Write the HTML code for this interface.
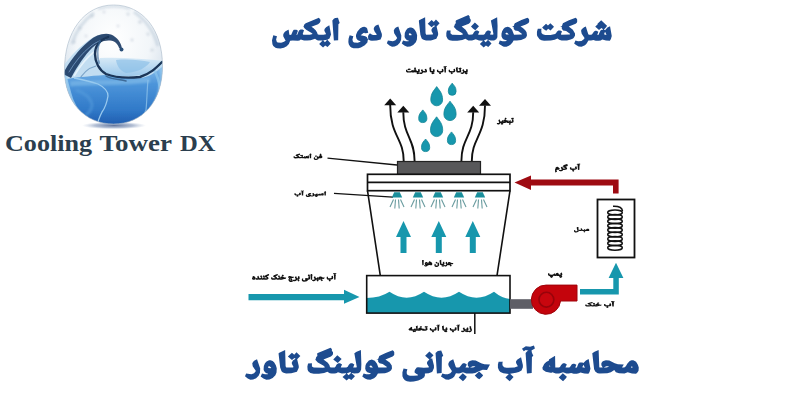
<!DOCTYPE html>
<html><head><meta charset="utf-8"><style>
html,body{margin:0;padding:0;background:#fff;width:800px;height:400px;overflow:hidden}
svg{display:block}
</style></head><body>
<svg width="800" height="400" viewBox="0 0 800 400">
<rect width="800" height="400" fill="#fff"/>
<defs>
<linearGradient id="gLow" x1="0" y1="0" x2="0" y2="1">
<stop offset="0" stop-color="#8fc2ec"/>
<stop offset="0.3" stop-color="#4d95da"/>
<stop offset="0.7" stop-color="#3079c8"/>
<stop offset="1" stop-color="#1b52a6"/>
</linearGradient>
<linearGradient id="gSurf" x1="0" y1="0" x2="0" y2="1">
<stop offset="0" stop-color="#d6e9f6"/>
<stop offset="1" stop-color="#9dc9ec"/>
</linearGradient>
<radialGradient id="gShadow" cx="0.5" cy="0.5" r="0.5">
<stop offset="0" stop-color="#5a6e98" stop-opacity="0.95"/>
<stop offset="0.6" stop-color="#8094b8" stop-opacity="0.6"/>
<stop offset="1" stop-color="#b0c0d8" stop-opacity="0"/>
</radialGradient>
<radialGradient id="gGlass" cx="0.48" cy="0.3" r="0.62">
<stop offset="0" stop-color="#ffffff"/>
<stop offset="0.55" stop-color="#f2f6f9"/>
<stop offset="0.8" stop-color="#dce5ee"/>
<stop offset="1" stop-color="#b8c8d8"/>
</radialGradient>
<clipPath id="cEgg"><path d="M113.5 5 C143 5 162.5 30 162.5 66 C162.5 102 142 124 113.5 124 C85 124 64.5 102 64.5 70 C64.5 32 84 5 113.5 5Z"/></clipPath>
<filter id="fB1" x="-20%" y="-20%" width="140%" height="140%"><feGaussianBlur stdDeviation="0.6"/></filter>
<filter id="fB2" x="-20%" y="-20%" width="140%" height="140%"><feGaussianBlur stdDeviation="1.2"/></filter>
</defs>
<ellipse cx="114" cy="125.5" rx="32" ry="3.8" fill="url(#gShadow)"/>
<g clip-path="url(#cEgg)">
<rect x="60" y="0" width="110" height="130" fill="url(#gGlass)"/>
<g filter="url(#fB2)" opacity="0.5" fill="none" stroke="#b4c4d4">
<path d="M72 44 C76 30 84 20 94 13" stroke-width="3"/>
<path d="M134 12 C146 20 154 32 158 46" stroke-width="3"/>
<path d="M98 9 C108 6 120 6 130 9" stroke-width="2"/>
</g>
<g filter="url(#fB2)" opacity="0.6" fill="#bcc8d4">
<circle cx="92" cy="16" r="1.6"/><circle cx="104" cy="12" r="1.3"/><circle cx="128" cy="14" r="1.5"/>
<circle cx="140" cy="22" r="1.8"/><circle cx="148" cy="34" r="1.5"/><circle cx="80" cy="28" r="1.6"/>
<circle cx="74" cy="42" r="1.4"/><circle cx="118" cy="26" r="1.2"/><circle cx="132" cy="40" r="1.4"/>
<circle cx="152" cy="50" r="1.6"/><circle cx="86" cy="36" r="1.2"/>
</g>
<g filter="url(#fB1)">
<path d="M62 68 C70 56 80 46 92 38 C98 34 106 33 112 36 C104 38 97 44 96 52 C95 58 97 62 102 60 C120 58 145 60 166 62 V130 H60Z" fill="#c2ddf1"/>
<path d="M70 66 C76 56 84 48 92 43" fill="none" stroke="#ffffff" stroke-width="2" opacity="0.7"/>
<path d="M74 76 C80 66 86 58 94 52" fill="none" stroke="#eef6fc" stroke-width="1.6" opacity="0.8"/>
<path d="M78 82 C82 74 88 68 96 66" fill="none" stroke="#4c7fae" stroke-width="1.2" opacity="0.6"/>
<path d="M100 58 C120 57 145 59 166 61 L164 68 C150 74 140 76 126 76 C115 76 106 74 100 70Z" fill="url(#gSurf)"/>
<path d="M116 60 C128 59 140 60 150 62 C146 68 138 72 126 73 C120 71 117 66 116 60Z" fill="#86bce6" opacity="0.6"/>
<path d="M60 80 C70 78 90 76 104 75 C118 76 132 79 142 78 C152 76 158 70 166 64 V130 H60Z" fill="url(#gLow)"/>
<path d="M60 70 C66 72 68 90 72 100 C76 110 82 118 90 126" fill="none" stroke="#9bcaee" stroke-width="3" opacity="0.8"/>
<path d="M74 78 C84 80 92 82 98 84 C104 87 108 90 108 96 C107 102 105 108 102 112 C100 116 98 120 97 126" fill="none" stroke="#a4d2f2" stroke-width="1.3" opacity="0.9"/>
<path d="M148 80 C147 90 147 100 146 110 C144 116 140 120 136 124" fill="none" stroke="#8cc2ea" stroke-width="1.2" opacity="0.8"/>
<path d="M154 70 C160 80 162 95 158 108" fill="none" stroke="#8cc4ec" stroke-width="2.5" opacity="0.7"/>
</g>
<g filter="url(#fB2)">
<path d="M65 76 C65 92 70 106 80 116" fill="none" stroke="#a6d6f4" stroke-width="4" opacity="0.75"/>
<path d="M162 68 C162 88 158 104 150 114" fill="none" stroke="#9fd0f2" stroke-width="4" opacity="0.6"/>
<path d="M70 84 C90 82 120 84 150 80" fill="none" stroke="#8fc6ee" stroke-width="5" opacity="0.5"/>
<path d="M76 90 C82 92 90 96 92 104 C92 110 88 114 84 116" fill="none" stroke="#5aa0de" stroke-width="3" opacity="0.5"/>
</g>
<g filter="url(#fB1)" fill="none" stroke-linecap="round">
<path d="M63 74 C69 62 78 50 89 41 C96 35 104 32.5 111 34.5 C117 37 121.5 43 121.8 48 L119.3 48.6 C118 44 115 41 110 40.5 C103 40 97 43 92 48 C85 55 78 65 71 78 Z" fill="#1f3d66" stroke="none" opacity="0.92"/>
<path d="M69 72 C75 62 82 53 91 46 C96 42 101 40 106 39" stroke="#7fa8d0" stroke-width="1" opacity="0.7"/>
<path d="M108 37 C100 40 95 46 95 54 C95 62 99 70 106 74 C116 78 130 78 140 77 C150 74 156 68 162 62" stroke="#1a3658" stroke-width="2.4"/>
<path d="M100 41 C97 48 97 56 99 63" stroke="#3a6a9c" stroke-width="2" opacity="0.6"/>
<path d="M106 76 C112 80 120 79 126 81" stroke="#2a4f78" stroke-width="1.5" opacity="0.7"/>
<circle cx="121.5" cy="49.5" r="2" fill="#2a4f78"/>
</g>
</g>
<path d="M113.5 5 C143 5 162.5 30 162.5 66 C162.5 102 142 124 113.5 124 C85 124 64.5 102 64.5 70 C64.5 32 84 5 113.5 5Z" fill="none" stroke="#a8b8c8" stroke-width="1" opacity="0.6" filter="url(#fB1)"/>

<g font-family="Liberation Serif" font-weight="bold" font-size="22.5" fill="#2b3e4e" lengthAdjust="spacingAndGlyphs">
<text x="5" y="151" textLength="87" lengthAdjust="spacingAndGlyphs">Cooling</text>
<text x="99.5" y="151" textLength="72.5" lengthAdjust="spacingAndGlyphs">Tower</text>
<text x="180" y="151" textLength="35.5" lengthAdjust="spacingAndGlyphs">DX</text>
</g>
<path transform="translate(272.00 15.00) scale(0.21628 0.20331)" fill="#1d4b8f" d="M255 122L245 134L237 126L240 124ZM996 119L998 123L988 134L980 126L993 119ZM632 94L636 90L639 90L647 98L643 100L635 99ZM1080 90L1083 87L1087 87L1095 96L1084 96L1080 93ZM1540 83L1546 96L1545 98L1535 95ZM644 61L637 61L626 67L619 76L614 89L613 106L615 113L623 123L633 127L631 129L619 129L606 126L600 140L612 150L625 156L639 155L653 148L665 134L670 121L671 100L667 85L660 72L653 65ZM584 56L573 62L567 68L563 76L565 90L579 113L571 124L559 129L536 126L531 139L543 150L555 156L567 155L580 149L591 137L597 122L598 101ZM492 47L480 52L473 59L470 69L475 82L485 96L480 98L467 98L459 95L453 90L447 97L444 104L445 120L443 119L439 110L434 106L427 103L410 100L423 88L427 87L429 90L434 90L445 87L440 67L436 62L427 58L419 59L408 65L395 81L389 96L388 104L391 117L397 124L409 129L409 132L396 136L379 135L374 130L372 121L376 105L359 100L354 117L353 133L355 144L361 155L367 160L377 164L399 164L411 160L429 149L441 135L443 123L446 120L454 125L462 127L484 126L502 120L508 104L508 93ZM1303 57L1287 40L1276 52L1267 43L1249 61L1257 70L1268 78L1277 68L1288 76L1303 59ZM938 37L920 57L929 67L940 75L957 55ZM1563 55L1551 62L1540 75L1536 73L1535 71L1546 59L1549 53L1522 26L1505 43L1506 45L1495 56L1495 58L1512 74L1523 64L1531 70L1530 72L1525 72L1519 76L1509 98L1504 97L1509 83L1500 78L1495 78L1489 81L1480 95L1476 97L1465 97L1462 94L1451 57L1443 60L1432 70L1429 78L1432 92L1445 113L1443 118L1431 128L1415 129L1403 126L1397 140L1406 148L1418 155L1431 156L1447 149L1454 142L1463 125L1475 126L1486 123L1497 127L1511 127L1520 125L1527 121L1544 126L1562 127L1567 118L1571 103ZM305 14L292 15L286 18L279 27L286 126L306 124L307 45L313 39ZM1409 18L1404 13L1373 26L1345 40L1341 53L1339 55L1332 56L1340 59L1340 68L1346 76L1360 79L1379 94L1376 96L1338 97L1336 94L1341 81L1333 76L1324 76L1317 82L1314 89L1309 94L1288 98L1263 98L1252 95L1246 89L1245 73L1247 68L1229 68L1225 82L1225 98L1227 105L1237 119L1246 124L1258 127L1289 126L1307 122L1320 116L1328 122L1339 126L1364 125L1381 121L1392 115L1397 110L1401 101L1401 91L1391 72L1372 57L1404 43L1409 38L1411 34L1411 22ZM1187 18L1181 13L1153 25L1123 40L1120 45L1119 53L1110 56L1117 59L1118 69L1124 76L1138 79L1156 94L1154 96L1119 97L1110 73L1100 62L1090 58L1077 62L1070 69L1064 80L1061 92L1061 104L1065 114L1071 120L1087 126L1079 129L1066 129L1053 126L1048 141L1067 154L1072 156L1084 156L1101 148L1111 137L1117 126L1132 126L1152 123L1171 114L1176 108L1179 100L1177 85L1171 75L1160 64L1149 57L1174 47L1186 39L1189 33L1189 23ZM265 51L250 60L243 69L242 78L250 93L249 95L238 97L217 97L211 95L209 87L203 76L191 64L182 58L213 45L221 38L224 31L224 23L217 13L156 40L150 46L145 59L148 60L149 64L158 73L183 89L188 94L175 97L145 97L142 93L148 75L141 71L132 71L125 76L116 98L113 97L120 77L113 72L101 73L97 77L89 97L82 98L80 95L77 73L75 73L61 81L55 88L52 96L52 104L63 127L53 133L42 136L26 135L22 132L19 121L23 105L6 100L0 124L2 144L6 152L16 161L24 164L39 165L55 161L68 154L78 143L84 127L96 125L119 127L127 125L133 120L148 126L163 126L179 124L199 117L207 123L213 125L234 126L218 143L236 160L246 150L257 157L272 140L256 122L257 120L266 116L273 96ZM680 26L679 30L686 97L692 115L698 121L712 126L735 125L760 117L768 98L768 89L761 56L775 40L758 22L748 34L738 25L720 43L738 60L749 50L754 54L742 63L737 73L738 80L745 94L742 96L713 97L710 90L708 11ZM809 76L806 89L806 105L813 119L821 124L834 127L857 127L880 123L894 117L908 125L925 126L942 119L957 126L976 127L961 143L979 160L989 150L1000 157L1015 140L1000 123L1001 122L1011 126L1027 125L1037 119L1042 109L1043 53L1041 11L1012 27L1024 95L1020 97L1008 96L1013 82L1004 76L997 76L989 82L984 93L978 97L955 97L953 95L959 82L950 76L943 76L935 82L929 94L926 96L912 97L906 95L904 87L895 72L877 57L910 43L916 37L919 30L919 23L914 15L914 7L908 0L852 26L849 29L850 40L846 44L842 57L840 58L853 73L878 89L883 94L882 96L873 98L833 97L825 90L826 76Z"/>
<path transform="translate(245.00 345.60) scale(0.22683 0.20565)" fill="#1d4b8f" d="M1401 134L1383 155L1402 173L1415 159L1419 152ZM960 134L942 155L961 173L971 163L978 152ZM464 128L468 132L457 144L449 136ZM1705 100L1708 103L1708 108L1701 106ZM1581 106L1593 100L1600 100L1605 103L1593 107ZM992 106L1004 100L1011 100L1016 103L1005 107ZM101 104L105 100L108 100L116 108L112 110L104 109ZM1339 100L1343 97L1346 99L1345 102ZM549 101L551 98L556 97L564 106L556 107L551 105ZM1492 93L1498 106L1497 108L1487 105ZM113 71L106 71L95 77L88 86L83 99L82 116L84 123L92 133L102 137L100 139L88 139L75 136L69 150L81 160L94 166L108 165L122 158L134 144L139 131L140 110L136 95L129 82L122 75ZM864 150L885 165L898 166L914 159L922 151L930 135L944 136L961 129L976 136L1002 136L1015 133L1031 125L1032 126L1013 146L1025 159L1033 164L1045 152L1050 144L1031 125L1048 118L1067 119L1080 92L1055 91L1041 86L1017 72L1002 71L991 75L986 79L982 86L982 96L988 106L987 107L972 106L978 92L969 86L962 86L958 88L946 105L941 107L932 107L929 103L918 66L907 72L900 79L896 90L898 99L912 123L911 127L905 134L894 139L882 139L870 136ZM53 66L42 72L36 78L32 86L34 100L48 123L40 134L28 139L5 136L0 149L12 160L24 166L36 165L49 159L60 147L66 132L67 111ZM1217 57L1201 67L1195 76L1195 85L1203 101L1188 106L1153 108L1142 105L1135 96L1135 83L1137 78L1118 79L1115 92L1115 108L1120 121L1126 128L1139 135L1163 138L1148 155L1167 173L1184 153L1169 137L1195 132L1207 128L1219 121L1225 105L1225 94ZM1311 108L1313 117L1326 127L1347 132L1352 132L1355 129L1370 136L1385 136L1402 129L1417 136L1427 136L1438 133L1449 137L1463 137L1472 135L1479 131L1496 136L1514 137L1519 128L1523 113L1515 65L1503 72L1492 85L1487 82L1477 82L1473 84L1469 89L1464 104L1461 108L1456 107L1461 93L1452 88L1447 88L1441 91L1432 105L1428 107L1414 107L1413 105L1419 92L1410 86L1403 86L1399 88L1393 95L1390 102L1385 106L1368 106L1367 49L1340 67L1340 72L1328 80L1319 89ZM407 47L389 67L409 85L426 65ZM813 29L794 49L813 67L805 76L802 84L803 90L811 104L809 106L788 108L763 105L757 106L749 119L747 129L753 136L764 143L760 145L743 147L727 147L717 143L713 136L713 126L716 115L699 111L694 129L694 149L699 161L705 168L714 173L728 176L744 175L764 170L779 163L790 154L793 146L795 145L793 144L793 136L810 134L824 128L827 125L833 109L833 97L825 61L820 64L818 63L831 47ZM865 24L850 26L840 36L846 136L867 133L868 55L874 49ZM656 28L651 23L620 36L592 50L588 63L586 65L579 66L587 69L587 78L593 86L607 89L626 104L623 106L588 107L582 88L572 74L559 68L546 72L534 88L531 98L530 113L533 122L539 129L556 136L548 139L535 139L523 136L517 150L529 160L539 165L553 166L569 159L578 150L586 136L617 134L628 131L639 125L644 120L648 111L647 97L638 82L619 67L651 53L656 48L658 44L658 32ZM1531 37L1539 115L1545 127L1555 134L1564 136L1597 135L1613 129L1628 119L1635 130L1649 135L1673 136L1687 130L1706 136L1724 137L1730 131L1735 122L1736 107L1732 93L1724 79L1712 71L1704 71L1696 75L1686 87L1679 101L1672 107L1662 106L1670 92L1644 91L1630 86L1606 72L1591 71L1580 75L1575 79L1571 86L1571 96L1577 106L1564 107L1562 105L1559 22L1541 30ZM149 36L148 40L155 107L161 125L167 131L181 136L204 135L229 127L237 108L237 99L230 66L244 50L227 32L217 44L207 35L189 53L207 70L218 60L223 64L211 73L206 83L207 90L214 104L211 106L182 107L179 100L177 21ZM278 87L275 102L276 118L279 125L288 133L303 137L326 137L349 133L363 127L374 134L382 136L394 136L402 134L410 129L427 136L445 135L446 137L430 153L448 170L458 160L469 167L484 150L483 147L470 134L472 133L481 136L499 134L507 128L512 116L513 91L511 21L492 30L482 37L493 105L489 107L477 106L482 92L473 86L466 86L462 88L457 94L453 103L447 107L424 107L422 105L428 92L419 86L412 86L404 92L398 104L395 106L381 107L375 105L372 94L365 83L346 67L379 53L386 46L388 41L388 32L383 25L383 17L377 10L321 36L318 39L319 50L314 56L311 67L309 68L321 82L345 97L352 104L351 106L343 108L303 107L295 102L295 86ZM1274 0L1257 6L1238 3L1221 15L1229 27L1238 22L1250 25L1244 28L1237 36L1243 136L1264 133L1265 55L1271 49L1265 35L1263 24L1278 14Z"/>
<path transform="translate(406.00 66.00) scale(0.05962 0.04749)" fill="#111" d="M1017 135L1011 141L1006 137L1014 134ZM461 135L454 143L452 143L448 138L449 136L458 134ZM211 135L204 143L198 138L199 136L208 134ZM152 99L155 104L147 107L144 104L148 100ZM1030 61L1016 68L1008 76L1005 82L1005 89L1012 103L1011 106L983 107L980 103L969 66L956 73L947 84L946 96L950 106L961 123L960 128L955 134L944 139L933 139L919 136L914 152L937 168L949 168L966 160L976 148L981 137L995 139L982 152L1011 178L1016 176L1035 155L1039 148L1023 132L1031 127L1038 107ZM819 56L805 64L796 74L794 80L795 86L803 101L797 104L775 108L749 107L742 104L738 100L737 84L739 78L719 78L715 93L715 109L720 122L728 131L735 135L749 139L762 140L747 155L768 175L780 163L786 154L772 139L793 135L808 130L818 125L823 118L827 106L827 95ZM622 56L607 65L598 77L598 85L606 101L592 106L578 108L557 108L549 106L542 101L540 96L542 78L522 78L518 95L518 106L522 120L527 127L536 134L547 138L565 140L550 155L571 175L584 162L590 153L575 139L596 135L614 129L623 124L630 107L630 93ZM80 67L62 50L52 62L44 53L42 53L24 73L43 90L53 81L64 88L77 74ZM0 91L0 110L2 117L7 126L19 135L34 139L55 139L76 136L97 129L105 135L115 138L130 138L146 134L172 138L189 138L190 139L175 154L194 172L205 162L215 170L227 158L233 163L244 168L260 166L268 162L278 152L285 139L288 129L294 135L301 138L328 138L346 132L353 113L351 97L337 57L323 62L317 68L313 77L314 86L327 106L324 108L307 107L297 100L288 111L274 66L261 72L255 78L251 86L252 99L266 123L264 129L252 138L241 139L225 135L222 140L215 133L226 126L232 109L232 100L224 60L209 69L200 80L200 91L207 104L205 106L179 107L177 92L172 79L163 69L156 66L171 47L152 27L132 48L136 54L149 66L136 73L127 82L121 94L119 107L113 106L118 92L109 86L100 86L96 88L88 101L84 104L64 108L39 108L28 105L22 98L22 83L24 78L4 78ZM836 37L843 108L845 118L851 129L859 135L869 138L893 137L918 129L923 122L927 109L927 100L921 66L934 50L916 32L905 44L896 35L877 54L896 72L906 63L910 65L898 75L894 83L896 94L902 104L900 106L871 107L869 101L867 21ZM421 21L391 37L399 115L405 128L412 134L424 138L439 139L425 153L436 166L445 172L455 162L465 170L482 150L465 133L475 127L482 107L474 61L460 68L452 76L449 82L449 89L456 103L455 106L426 107L424 105ZM679 0L661 6L642 3L625 15L632 29L643 24L650 26L642 34L640 39L647 138L669 136L670 56L677 51L668 26L684 15Z"/>
<path transform="translate(496.75 117.50) scale(0.05259 0.05208)" fill="#111" d="M107 99L109 101L100 111L93 105ZM142 74L151 70L157 70L159 72L150 75ZM126 61L132 73L131 75L120 74ZM327 18L309 0L299 11L289 3L270 22L289 40L291 40L300 31L303 33L292 42L288 49L288 59L295 73L285 75L264 75L263 72L268 60L257 54L251 54L245 57L235 73L231 75L223 75L222 73L229 60L201 59L184 52L169 42L182 30L189 20L170 1L150 21L151 24L169 41L168 42L159 39L148 39L141 41L131 48L126 61L118 55L108 54L100 60L94 72L89 75L69 75L67 73L55 34L42 41L36 47L32 56L34 69L47 91L45 98L38 104L30 107L19 107L6 104L0 120L21 135L35 136L51 129L59 121L67 105L85 105L86 107L71 122L90 140L101 130L111 138L128 119L115 105L116 104L123 106L148 106L159 104L169 100L185 89L191 99L207 105L233 106L247 101L248 103L229 123L250 143L262 131L268 121L250 102L247 101L249 99L265 106L278 106L296 103L313 96L320 78L320 66L314 35Z"/>
<path transform="translate(293.50 153.50) scale(0.05780 0.04167)" fill="#111" d="M237 76L240 79L242 84L241 86L234 83ZM388 41L368 63L383 78L390 82L408 61ZM303 2L293 2L287 4L279 10L276 16L283 116L305 114L306 34L312 29ZM1 74L0 92L4 104L8 109L16 114L31 117L67 115L81 111L87 107L95 112L108 116L132 115L147 109L153 113L163 116L184 113L195 117L209 117L218 115L225 111L236 115L261 117L268 100L270 89L261 43L247 51L237 63L233 60L220 61L215 66L206 86L203 84L208 72L198 66L188 68L176 84L161 85L161 81L166 71L155 63L168 46L151 28L140 39L130 31L111 50L130 68L132 68L141 59L148 64L140 70L134 82L129 85L107 85L102 83L99 73L93 63L82 52L74 47L104 34L112 27L115 21L115 11L108 1L48 26L40 33L37 39L37 44L31 47L36 48L44 60L68 75L76 83L69 86L37 86L25 84L22 81L21 76L23 64L4 64ZM468 0L448 22L462 37L456 40L445 53L442 62L442 77L445 84L432 84L429 61L410 71L403 81L402 94L412 114L410 118L394 124L377 123L373 119L371 111L375 93L356 88L351 106L350 122L354 138L363 149L380 155L392 155L407 151L417 146L426 138L433 127L436 116L451 116L478 112L488 109L495 104L499 95L499 77L497 67L487 46L475 36L488 20Z"/>
<path transform="translate(294.40 190.50) scale(0.05821 0.03631)" fill="#111" d="M382 131L384 133L376 141L371 136ZM472 98L475 101L477 106L476 108L469 105ZM496 65L482 73L472 85L468 82L455 83L450 88L441 108L438 106L443 94L433 88L423 90L411 106L396 107L396 103L401 93L397 89L390 86L383 86L379 88L367 106L344 107L342 105L330 66L317 73L308 84L307 95L313 109L322 123L322 126L316 134L305 139L289 138L288 134L293 130L288 130L284 121L280 117L271 113L256 110L261 104L269 99L273 103L290 99L287 83L283 75L275 69L263 69L253 74L243 84L237 93L232 106L231 119L235 130L239 135L250 140L251 142L239 146L223 145L219 141L217 135L217 128L221 115L201 110L196 133L196 147L198 156L202 164L210 172L225 177L236 177L257 171L269 164L279 155L296 167L314 167L326 161L334 153L342 137L360 137L361 138L348 152L358 163L374 176L379 178L395 162L405 148L395 138L396 137L406 138L419 135L430 139L444 139L453 137L460 133L471 137L496 139L503 122L505 111ZM104 56L91 63L82 72L79 79L79 84L87 101L85 103L60 108L39 108L30 106L22 98L22 83L24 78L3 79L0 91L0 110L4 121L13 131L22 136L46 140L32 155L52 175L64 164L71 154L57 139L93 130L103 125L109 115L112 97ZM538 24L528 24L522 26L514 32L511 38L518 138L540 136L541 56L547 51ZM161 0L143 6L123 3L106 16L114 29L125 24L131 26L122 37L128 138L151 135L152 56L158 50L152 36L150 26L166 14Z"/>
<path transform="translate(422.00 259.75) scale(0.05536 0.04618)" fill="#111" d="M386 114L379 122L377 122L373 117L374 115L383 113ZM482 85L490 81L497 81L500 83L491 86ZM71 81L74 78L77 78L83 85L78 86L73 84ZM136 73L138 75L137 80L133 78ZM303 62L288 69L280 77L277 83L276 94L287 116L279 122L268 125L251 124L246 117L246 105L249 94L230 89L224 119L227 136L236 149L245 154L254 156L272 155L291 147L301 138L308 126L310 118L310 105ZM263 42L243 64L253 75L264 83L277 70L282 62ZM183 74L177 63L166 50L154 41L135 33L129 32L124 51L113 66L110 86L102 64L91 51L80 47L70 49L63 54L54 68L50 83L50 93L54 104L61 111L73 116L69 118L57 118L43 115L37 131L57 145L62 147L74 147L87 142L95 136L108 117L118 117L138 112L155 118L176 119L186 99L186 85ZM27 3L17 3L6 8L0 16L6 117L29 114L30 35L36 29ZM316 16L325 97L331 108L339 114L349 117L364 118L350 133L369 151L380 141L390 149L401 137L417 147L432 146L440 143L450 135L461 116L488 117L504 113L511 109L513 111L498 126L519 146L531 134L537 125L519 105L534 99L554 100L568 72L537 69L527 65L506 52L499 50L488 50L475 55L470 60L467 66L467 77L472 85L462 86L448 45L437 51L429 59L425 70L427 79L441 103L439 108L433 114L424 118L413 118L399 115L397 119L390 112L401 105L407 88L407 79L399 39L384 48L375 59L375 70L382 83L380 85L351 86L349 80L347 0Z"/>
<path transform="translate(252.00 272.90) scale(0.05893 0.04973)" fill="#111" d="M664 110L666 111L647 132L666 151L662 152L646 147L640 140L640 132L651 118ZM1149 106L1157 102L1167 104L1158 107ZM496 106L504 102L511 102L514 104L505 107ZM26 102L28 101L34 109L26 110L24 107ZM1132 94L1134 95L1135 101L1139 106L1138 107L1127 106ZM480 93L486 106L485 107L474 106ZM203 85L216 70L217 79L224 88L238 91L255 105L249 107L216 107L215 105L221 93L213 87ZM1016 152L1040 168L1051 168L1061 165L1071 158L1077 151L1084 137L1097 138L1111 133L1112 135L1093 155L1114 175L1126 163L1132 153L1114 134L1111 133L1113 131L1129 138L1155 138L1171 134L1180 129L1181 130L1165 146L1165 148L1186 167L1204 146L1186 126L1201 120L1220 121L1235 92L1213 92L1204 90L1192 85L1173 73L1166 71L1154 71L1142 76L1136 82L1132 92L1125 87L1115 86L1107 91L1099 105L1095 107L1085 107L1071 66L1060 72L1052 80L1048 91L1050 100L1064 124L1062 129L1056 135L1047 139L1036 139L1022 136ZM801 61L786 69L777 80L777 91L784 104L783 106L779 107L763 106L751 66L739 72L729 83L727 91L729 100L743 124L741 129L735 135L726 139L715 139L701 136L696 148L673 152L669 151L679 141L686 129L667 110L671 107L679 105L702 104L713 75L685 75L645 64L635 64L623 68L618 72L614 79L613 85L617 97L624 102L633 96L641 96L629 108L620 127L619 145L625 163L640 177L651 181L670 182L690 175L710 164L719 168L730 168L740 165L752 156L763 137L775 138L784 136L785 137L768 155L789 175L801 163L807 154L789 135L802 128L809 111L809 98ZM20 61L16 63L11 70L11 87L7 91L2 101L0 115L2 123L9 133L18 138L32 139L40 137L49 131L54 123L59 109L59 100L55 88L49 79L35 67ZM1371 56L1358 63L1349 72L1346 79L1346 84L1354 101L1352 103L1327 108L1306 108L1297 106L1289 98L1289 83L1291 78L1270 79L1267 91L1267 110L1271 121L1280 131L1289 136L1313 140L1299 155L1319 175L1331 164L1338 154L1324 139L1360 130L1370 125L1376 115L1379 97ZM966 28L946 49L950 55L964 68L957 76L954 83L956 94L962 105L957 107L941 108L911 105L907 108L901 119L899 130L904 137L914 144L896 147L880 147L873 145L868 140L866 133L870 115L851 111L846 129L845 143L848 157L856 169L866 175L881 178L911 174L929 167L938 161L944 155L946 149L950 146L947 144L947 138L962 136L980 128L987 110L987 100L979 61L975 61L985 48ZM1019 24L1009 24L999 28L994 33L991 40L996 91L998 138L1020 136L1022 79L1021 57L1028 51ZM324 101L324 116L327 125L333 132L343 137L355 139L385 138L399 135L412 129L421 135L432 138L449 137L460 131L476 138L502 138L518 134L543 121L568 121L582 92L560 92L541 86L524 75L538 59L542 51L523 32L503 54L523 73L522 74L513 71L497 72L489 76L484 81L480 93L472 87L461 85L477 66L457 47L438 68L458 88L445 106L428 106L425 104L422 93L416 84L398 69L431 54L437 47L439 42L439 34L435 26L429 23L372 48L363 56L360 67L355 69L360 70L364 78L369 83L393 98L400 105L392 108L361 108L349 106L345 101L346 86L328 86ZM290 32L283 23L267 29L223 50L217 64L199 46L179 68L199 87L190 102L183 107L172 107L172 103L177 93L169 87L159 85L170 73L174 65L155 46L135 68L155 87L145 104L140 107L130 107L125 102L115 76L111 58L101 60L94 65L89 75L90 89L98 107L84 108L68 101L60 113L59 126L63 133L78 139L93 139L115 132L129 138L142 138L152 135L158 131L164 135L174 138L190 137L201 131L217 138L242 137L262 132L273 125L277 120L280 113L280 101L272 85L252 68L275 59L285 53L290 46ZM1428 0L1410 6L1390 3L1373 16L1381 29L1392 24L1398 26L1389 37L1395 138L1418 135L1419 56L1425 50L1419 36L1417 26L1433 14Z"/>
<path transform="translate(408.50 324.50) scale(0.06165 0.04545)" fill="#111" d="M952 135L945 143L943 143L939 138L940 136L949 134ZM611 135L604 143L598 138L599 136ZM102 131L103 134L95 143L93 143L88 137ZM174 106L182 102L189 102L191 104L182 107ZM32 101L34 99L35 100L34 102ZM773 56L759 64L750 74L748 80L749 86L757 101L751 104L729 108L703 107L696 104L692 100L691 84L693 78L673 78L669 93L669 109L674 122L682 131L689 135L703 139L716 140L701 155L722 175L734 163L740 154L726 139L747 135L762 130L772 125L777 118L781 106L781 95ZM449 56L436 63L426 73L424 85L432 101L418 106L405 108L384 108L375 106L367 99L366 89L368 78L348 79L344 103L345 111L350 123L359 132L369 137L391 140L377 154L377 156L397 175L407 166L416 154L402 139L438 130L449 124L453 117L457 98ZM1021 53L1002 33L982 54L986 60L1000 73L995 79L991 90L994 102L1007 123L1006 127L999 135L988 139L965 136L963 140L956 133L967 126L973 109L973 100L965 60L950 69L942 78L940 87L948 104L946 106L918 107L916 105L904 66L891 73L885 79L881 88L883 101L896 123L894 130L887 136L879 139L868 139L855 136L849 152L870 167L884 168L900 161L908 153L915 138L917 137L930 139L916 154L935 172L946 162L956 170L967 158L984 168L994 168L1007 163L1022 147L1028 131L1028 109L1015 66L1012 65ZM572 21L542 37L550 116L555 127L563 134L575 138L590 139L575 154L588 167L595 172L604 163L606 163L615 170L632 151L632 149L616 133L626 127L632 111L632 97L625 61L612 67L605 73L600 81L600 90L607 103L606 106L577 107L575 105ZM0 110L2 118L8 124L21 131L43 134L45 131L53 136L62 138L80 137L81 138L66 153L69 158L85 172L96 162L106 170L123 150L110 137L111 136L126 138L140 134L152 138L179 138L196 134L216 122L224 132L233 136L246 138L274 137L299 129L304 122L308 109L308 100L302 66L315 50L297 32L286 44L277 35L258 54L277 72L287 63L291 65L279 75L275 83L277 94L283 104L281 106L254 107L253 106L260 92L233 91L214 83L202 75L216 59L220 51L201 32L181 54L201 73L180 71L167 76L159 87L159 98L164 106L152 107L149 105L149 21L119 37L122 72L127 102L126 107L115 106L120 92L110 86L103 86L99 88L93 95L89 104L84 107L59 106L58 48L29 68L30 72L18 80L7 91ZM830 0L812 6L793 3L775 16L783 29L794 24L801 26L794 32L791 38L798 138L820 136L821 56L827 51L819 26L835 15ZM505 0L497 4L487 6L476 3L468 3L451 15L459 29L469 24L476 26L469 33L466 40L471 91L473 138L495 136L497 79L496 57L503 51L494 26L502 22L510 15Z"/>
<path transform="translate(555.00 163.50) scale(0.06287 0.04688)" fill="#111" d="M28 103L31 100L34 100L36 103ZM39 69L32 69L24 73L12 87L5 103L12 107L7 111L0 128L3 191L23 183L32 176L23 136L40 132L66 132L77 105L62 92L54 80L46 72ZM341 56L327 64L318 74L316 80L317 86L325 101L319 104L297 108L271 107L264 104L260 100L259 84L261 78L241 78L237 93L237 109L242 122L250 131L257 135L271 139L284 140L269 155L290 175L302 163L308 154L294 139L315 135L330 130L340 125L345 118L349 106L349 95ZM193 11L190 10L133 37L131 40L133 53L131 63L129 65L119 67L129 71L130 80L135 87L152 92L162 99L167 105L162 107L130 107L128 105L116 66L102 74L96 81L93 89L96 103L109 124L107 129L101 135L91 139L80 139L67 136L61 151L63 154L82 167L100 167L112 161L121 152L129 137L145 138L166 135L180 129L189 121L193 111L191 96L182 82L165 68L193 56L202 47L203 34L198 26L198 17ZM398 0L380 6L360 3L343 16L351 29L362 24L368 26L359 37L365 138L388 135L389 56L395 50L389 36L387 26L403 14Z"/>
<path transform="translate(574.00 227.00) scale(0.05580 0.03571)" fill="#111" d="M185 110L166 131L180 146L187 151L198 140L205 129ZM241 81L243 79L246 83L243 84ZM87 92L87 102L90 108L98 113L106 115L121 115L143 108L157 114L170 114L180 111L186 107L192 111L202 114L211 114L222 109L227 109L244 114L262 115L267 111L274 99L275 84L272 72L264 57L258 51L250 47L242 47L235 50L226 59L216 78L209 83L199 82L205 69L201 65L194 62L183 64L172 81L168 83L158 83L150 72L138 33L123 40L117 51L118 65L126 83L112 84L96 77L90 84ZM76 0L60 2L52 9L48 17L50 40L63 113L48 121L30 122L22 115L21 107L25 91L8 86L5 87L0 110L1 127L7 141L13 147L21 151L37 153L56 149L70 141L79 131L84 121L85 94L79 32L84 28Z"/>
<path transform="translate(548.00 272.40) scale(0.06170 0.04746)" fill="#111" d="M55 78L57 77L58 79L56 80ZM211 74L205 80L201 76L204 74ZM146 45L148 43L150 44L149 46ZM234 87L218 71L225 67L232 49L232 37L224 0L212 6L202 16L200 20L200 30L207 44L197 46L180 46L175 39L168 20L164 14L158 10L147 11L139 15L129 25L119 46L113 45L118 31L109 25L100 25L96 27L88 40L81 44L64 47L34 46L28 44L22 37L22 22L24 17L3 18L0 30L0 49L5 62L11 69L19 74L40 79L28 91L57 117L69 108L85 87L74 76L94 68L115 77L124 77L134 73L156 78L170 78L172 75L176 77L188 77L189 78L177 91L187 102L206 117L215 111Z"/>
<path transform="translate(585.20 301.00) scale(0.06477 0.03977)" fill="#111" d="M172 106L181 102L187 102L190 104L181 107ZM156 93L162 106L161 107L150 106ZM394 56L379 65L370 77L370 85L378 101L364 106L350 108L329 108L321 106L314 101L312 96L314 78L294 78L290 95L290 106L294 120L299 127L308 134L319 138L337 140L322 155L343 175L356 162L362 153L347 139L368 135L386 129L395 124L402 107L402 93ZM0 103L0 114L4 126L12 134L25 138L61 138L81 133L87 129L95 134L108 138L125 137L136 131L153 138L178 138L194 134L219 121L244 121L258 92L237 92L224 89L200 75L219 52L199 32L179 54L199 73L198 74L189 71L178 71L171 73L161 80L156 93L148 87L137 85L148 74L153 66L134 46L114 67L118 73L134 88L121 106L104 106L101 104L99 95L93 85L82 74L74 69L104 56L112 49L115 43L115 33L112 27L108 23L105 23L48 48L40 55L37 61L37 66L31 69L36 70L44 82L68 97L76 105L69 108L37 108L25 106L22 103L21 98L23 86L4 86ZM451 0L433 6L414 3L397 15L404 29L415 24L422 26L414 34L412 39L419 138L441 136L442 56L449 51L440 26L456 15Z"/>
<path fill="#1797ad" stroke="#138596" stroke-width="0.8" d="M436.7 86.6 C439.35499999999996 90.44 442.59999999999997 93.115 442.59999999999997 99.89999999999999 A5.9 5.9 0 0 1 430.8 99.89999999999999 C430.8 93.115 434.045 90.44 436.7 86.6Z"/>
<path fill="#1797ad" stroke="#138596" stroke-width="0.8" d="M452.2 83.2 C453.955 85.62 456.09999999999997 86.91499999999999 456.09999999999997 91.39999999999999 A3.9 3.9 0 0 1 448.3 91.39999999999999 C448.3 86.91499999999999 450.445 85.62 452.2 83.2Z"/>
<path fill="#1797ad" stroke="#138596" stroke-width="0.8" d="M450 101.2 C452.745 105.08 456.1 107.485 456.1 114.5 A6.1 6.1 0 0 1 443.9 114.5 C443.9 107.485 447.255 105.08 450 101.2Z"/>
<path fill="#1797ad" stroke="#138596" stroke-width="0.8" d="M422.8 109.9 C424.64500000000004 112.44 426.90000000000003 113.785 426.90000000000003 118.5 A4.1 4.1 0 0 1 418.7 118.5 C418.7 113.785 420.955 112.44 422.8 109.9Z"/>
<path fill="#1797ad" stroke="#138596" stroke-width="0.8" d="M436.6 116.8 C439.345 120.75999999999999 442.70000000000005 123.485 442.70000000000005 130.5 A6.1 6.1 0 0 1 430.5 130.5 C430.5 123.485 433.855 120.75999999999999 436.6 116.8Z"/>
<path fill="#1797ad" stroke="#138596" stroke-width="0.8" d="M451.5 131.9 C453.345 134.44 455.6 135.785 455.6 140.5 A4.1 4.1 0 0 1 447.4 140.5 C447.4 135.785 449.655 134.44 451.5 131.9Z"/>
<path fill="#1797ad" stroke="#138596" stroke-width="0.8" d="M425.6 139 C427.44500000000005 141.52 429.70000000000005 142.785 429.70000000000005 147.5 A4.1 4.1 0 0 1 421.5 147.5 C421.5 142.785 423.755 141.52 425.6 139Z"/>
<path d="M403.7 161 C403.7 138 390.2 136 390.2 104.9" fill="none" stroke="#111" stroke-width="1.9"/><path fill="#111" d="M390.2 98.4 L396.2 105.2 L384.2 105.2Z"/>
<path d="M414.6 161 C414.6 138 403.3 136 403.3 112.2" fill="none" stroke="#111" stroke-width="1.9"/><path fill="#111" d="M403.3 105.7 L409.3 112.5 L397.3 112.5Z"/>
<path d="M461.4 161 C461.4 138 473.2 136 473.2 112.2" fill="none" stroke="#111" stroke-width="1.9"/><path fill="#111" d="M473.2 105.7 L479.2 112.5 L467.2 112.5Z"/>
<path d="M471.8 161 C471.8 138 485 136 485 105.4" fill="none" stroke="#111" stroke-width="1.9"/><path fill="#111" d="M485 98.9 L491 105.7 L479 105.7Z"/>
<rect x="397.5" y="161.5" width="83" height="13" fill="#58585a" stroke="#222" stroke-width="1.2"/>
<path d="M327.5 158.2 L397 165" stroke="#111" stroke-width="1.3" fill="none"/>
<path d="M334 193.3 L393 197.2" stroke="#111" stroke-width="1.3" fill="none"/>
<rect x="367.5" y="174.3" width="142.5" height="16.4" fill="#fff" stroke="#111" stroke-width="1.7"/>
<path d="M367.5 182.4 H510" stroke="#111" stroke-width="1.8"/>
<path d="M367.5 190.7 L380.3 275.6 M510 190.7 L497 275.6" stroke="#111" stroke-width="1.6" fill="none"/>
<path fill="#1a8f9c" d="M394.2 192.2 L399.8 192.2 L402.2 197.6 L391.8 197.6Z"/>
<path d="M393.5 199.5 L390 207" stroke="#4f8a8e" stroke-width="1.1" opacity="0.85"/>
<path d="M395.5 199.5 L394.8 208.5" stroke="#4f8a8e" stroke-width="1.1" opacity="0.85"/>
<path d="M398.5 199.5 L399.2 208.5" stroke="#4f8a8e" stroke-width="1.1" opacity="0.85"/>
<path d="M400.5 199.5 L404 207" stroke="#4f8a8e" stroke-width="1.1" opacity="0.85"/>
<path fill="#1a8f9c" d="M415.2 192.2 L420.8 192.2 L423.2 197.6 L412.8 197.6Z"/>
<path d="M414.5 199.5 L411 207" stroke="#4f8a8e" stroke-width="1.1" opacity="0.85"/>
<path d="M416.5 199.5 L415.8 208.5" stroke="#4f8a8e" stroke-width="1.1" opacity="0.85"/>
<path d="M419.5 199.5 L420.2 208.5" stroke="#4f8a8e" stroke-width="1.1" opacity="0.85"/>
<path d="M421.5 199.5 L425 207" stroke="#4f8a8e" stroke-width="1.1" opacity="0.85"/>
<path fill="#1a8f9c" d="M435.2 192.2 L440.8 192.2 L443.2 197.6 L432.8 197.6Z"/>
<path d="M434.5 199.5 L431 207" stroke="#4f8a8e" stroke-width="1.1" opacity="0.85"/>
<path d="M436.5 199.5 L435.8 208.5" stroke="#4f8a8e" stroke-width="1.1" opacity="0.85"/>
<path d="M439.5 199.5 L440.2 208.5" stroke="#4f8a8e" stroke-width="1.1" opacity="0.85"/>
<path d="M441.5 199.5 L445 207" stroke="#4f8a8e" stroke-width="1.1" opacity="0.85"/>
<path fill="#1a8f9c" d="M456.2 192.2 L461.8 192.2 L464.2 197.6 L453.8 197.6Z"/>
<path d="M455.5 199.5 L452 207" stroke="#4f8a8e" stroke-width="1.1" opacity="0.85"/>
<path d="M457.5 199.5 L456.8 208.5" stroke="#4f8a8e" stroke-width="1.1" opacity="0.85"/>
<path d="M460.5 199.5 L461.2 208.5" stroke="#4f8a8e" stroke-width="1.1" opacity="0.85"/>
<path d="M462.5 199.5 L466 207" stroke="#4f8a8e" stroke-width="1.1" opacity="0.85"/>
<path fill="#1a8f9c" d="M477.2 192.2 L482.8 192.2 L485.2 197.6 L474.8 197.6Z"/>
<path d="M476.5 199.5 L473 207" stroke="#4f8a8e" stroke-width="1.1" opacity="0.85"/>
<path d="M478.5 199.5 L477.8 208.5" stroke="#4f8a8e" stroke-width="1.1" opacity="0.85"/>
<path d="M481.5 199.5 L482.2 208.5" stroke="#4f8a8e" stroke-width="1.1" opacity="0.85"/>
<path d="M483.5 199.5 L487 207" stroke="#4f8a8e" stroke-width="1.1" opacity="0.85"/>
<path fill="#1797ad" d="M403.5 221 L411.0 237 L406.5 237 L406.5 253 L400.5 253 L400.5 237 L396.0 237Z"/>
<path fill="#1797ad" d="M438.8 221 L446.3 237 L441.8 237 L441.8 253 L435.8 253 L435.8 237 L431.3 237Z"/>
<path fill="#1797ad" d="M472.8 221 L480.3 237 L475.8 237 L475.8 253 L469.8 253 L469.8 237 L465.3 237Z"/>
<path fill="#1797ad" d="M366.5 298 Q380 298 389.5 291.8 Q406.5 303.5 424 291.8 Q441.5 303.5 459 291.8 Q476.5 303.5 494 291.8 Q502 298.5 510 299 V313 H366.5Z"/>
<rect x="366.7" y="275.6" width="143.3" height="37.5" fill="none" stroke="#111" stroke-width="1.6"/>
<path d="M474.8 313 V334" stroke="#111" stroke-width="1.5"/>
<path fill="#1797ad" d="M248.5 294 H344 V289.8 L359.5 297 L344 303.8 V300.2 H248.5Z"/>
<rect x="510" y="299.2" width="23" height="9.6" fill="#5e5e66"/>
<path fill="#c4040c" stroke="#a0030a" stroke-width="1" d="M546 285.1 H577 V301 H560.5 A14.6 14.6 0 1 1 546 285.1Z"/>
<circle cx="546.4" cy="299.7" r="7.4" fill="#c8060e" stroke="#98030a" stroke-width="1.6"/>
<path fill="#1797ad" d="M580 289 H613.3 V278 H608.6 L616 262.7 L623.4 278 H618.8 V294.4 H580Z"/>
<rect x="597.5" y="199.5" width="37" height="58" fill="#fff" stroke="#111" stroke-width="1.8"/>
<path d="M613 206.3 Q622 206 622.5 211" fill="none" stroke="#111" stroke-width="1.5"/><ellipse cx="615" cy="212.50" rx="7.3" ry="2.5" fill="none" stroke="#111" stroke-width="1.5"/><ellipse cx="615" cy="216.90" rx="7.3" ry="2.5" fill="none" stroke="#111" stroke-width="1.5"/><ellipse cx="615" cy="221.30" rx="7.3" ry="2.5" fill="none" stroke="#111" stroke-width="1.5"/><ellipse cx="615" cy="225.70" rx="7.3" ry="2.5" fill="none" stroke="#111" stroke-width="1.5"/><ellipse cx="615" cy="230.10" rx="7.3" ry="2.5" fill="none" stroke="#111" stroke-width="1.5"/><ellipse cx="615" cy="234.50" rx="7.3" ry="2.5" fill="none" stroke="#111" stroke-width="1.5"/><ellipse cx="615" cy="238.90" rx="7.3" ry="2.5" fill="none" stroke="#111" stroke-width="1.5"/><ellipse cx="615" cy="243.30" rx="7.3" ry="2.5" fill="none" stroke="#111" stroke-width="1.5"/><ellipse cx="615" cy="247.70" rx="7.3" ry="2.5" fill="none" stroke="#111" stroke-width="1.5"/>
<path fill="#9e0b12" d="M514.5 182.5 L531 175.5 V179.5 H618.6 V193.5 H613 V185.5 H531 V190 Z"/>
</svg>
</body></html>
